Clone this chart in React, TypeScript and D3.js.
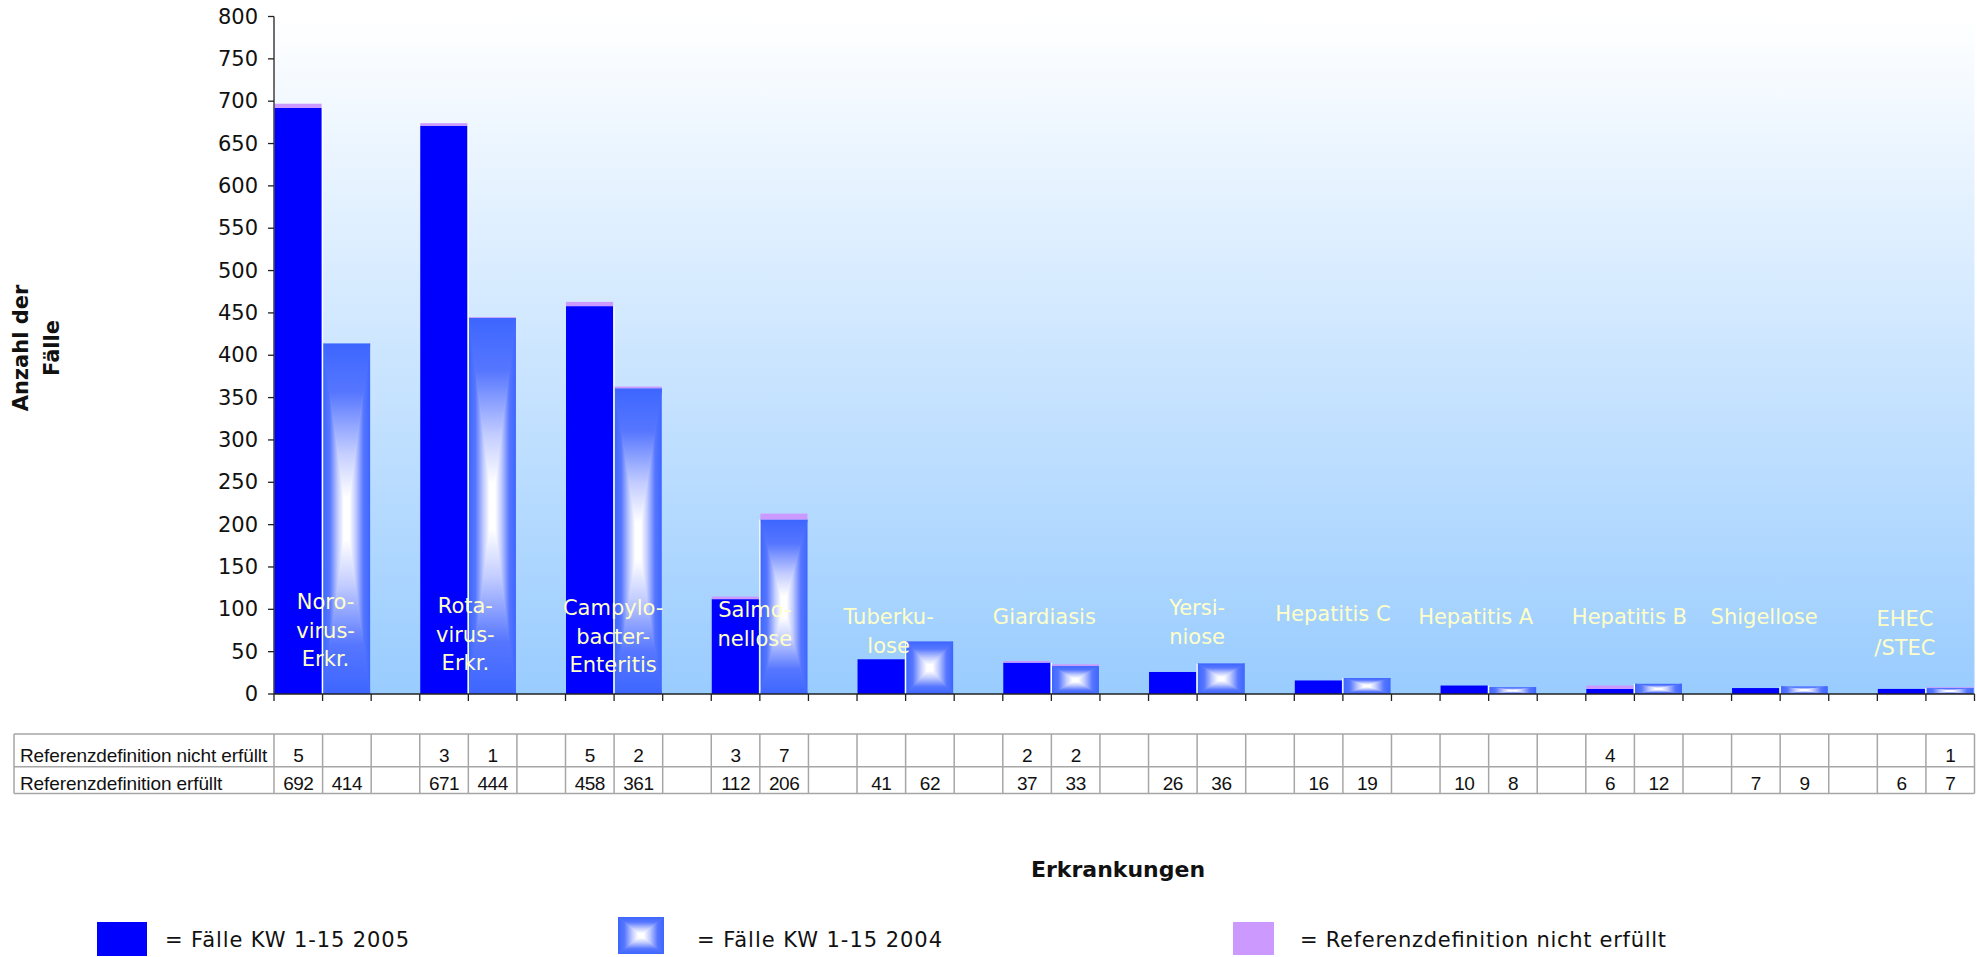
import React from "react";
import * as d3 from "d3";

// Disease categories (label lines as printed in the chart)
const categoryLines: string[][] = [
  ["Noro-", "virus-", "Erkr."],
  ["Rota-", "virus-", "Erkr."],
  ["Campylo-", "bacter-", "Enteritis"],
  ["Salmo-", "nellose"],
  ["Tuberku-", "lose"],
  ["Giardiasis"],
  ["Yersi-", "niose"],
  ["Hepatitis C"],
  ["Hepatitis A"],
  ["Hepatitis B"],
  ["Shigellose"],
  ["EHEC", "/STEC"],
];

// Cases meeting the reference definition
const confirmed2005 = [692, 671, 458, 112, 41, 37, 26, 16, 10, 6, 7, 6];
const confirmed2004 = [414, 444, 361, 206, 62, 33, 36, 19, 8, 12, 9, 7];
// Cases not meeting the reference definition (null = empty cell)
const unconfirmed2005: (number | null)[] = [5, 3, 5, 3, null, 2, null, null, null, 4, null, null];
const unconfirmed2004: (number | null)[] = [null, 1, 2, 7, null, 2, null, null, null, null, null, 1];

const yTickValues = [0, 50, 100, 150, 200, 250, 300, 350, 400, 450, 500, 550, 600, 650, 700, 750, 800];

const rowLabels = ["Referenzdefinition nicht erfüllt", "Referenzdefinition erfüllt"];
const legendLabels = ["= Fälle KW 1-15 2005", "= Fälle KW 1-15 2004", "= Referenzdefinition nicht erfüllt"];
const yTitleLines = ["Anzahl der", "Fälle"];
const xTitle = "Erkrankungen";

// Layout
const W = 1977;
const H = 957;
const plot = { left: 274, right: 1974.5, top: 16.5, bottom: 694 };
const table = { left: 14, top: 734, mid: 766.7, bottom: 793.5 };
// label placement: horizontal shift from the boundary between the two bars, first line centre y
const labelLayout = [
  { dx: 3, y: 602 },
  { dx: -3, y: 606 },
  { dx: -1, y: 608 },
  { dx: -5, y: 610 },
  { dx: -17, y: 617 },
  { dx: -7, y: 617 },
  { dx: 0, y: 608 },
  { dx: -10, y: 614 },
  { dx: -13, y: 617 },
  { dx: -5, y: 617 },
  { dx: -16, y: 617 },
  { dx: -21, y: 619 },
];

const BLUE = "#0000FF";
const BLUE_04 = "#3D66FF";
const PURPLE = "#CC99FF";
const LABEL_COL = "#FFFFC8";
const GRID = "#A6A6A6";

type Col = { key: string; g: number; kind: "2005" | "2004" | "gap" };

const columns: Col[] = [];
categoryLines.forEach((_, g) => {
  columns.push({ key: `${g}-2005`, g, kind: "2005" });
  columns.push({ key: `${g}-2004`, g, kind: "2004" });
  if (g < categoryLines.length - 1) columns.push({ key: `${g}-gap`, g, kind: "gap" });
});

const x = d3
  .scaleBand<string>()
  .domain(columns.map((c) => c.key))
  .range([plot.left, plot.right])
  .paddingInner(0)
  .paddingOuter(0);

const y = d3.scaleLinear().domain([0, 800]).range([plot.bottom, plot.top]);

// Rectangle filled with a box gradient: blue rim fading to a white centre
function GradientBar({ id, x0, x1, y0, y1 }: { id: string; x0: number; x1: number; y0: number; y1: number }) {
  const cx = (x0 + x1) / 2;
  const cy = (y0 + y1) / 2;
  const pts = (arr: number[][]) => arr.map((p) => p.join(",")).join(" ");
  const parts: [string, number[][]][] = [
    ["boxTop", [[x0, y0], [x1, y0], [cx, cy]]],
    ["boxBottom", [[x0, y1], [x1, y1], [cx, cy]]],
    ["boxLeft", [[x0, y0], [x0, y1], [cx, cy]]],
    ["boxRight", [[x1, y0], [x1, y1], [cx, cy]]],
  ];
  return (
    <g clipPath={`url(#clip-${id})`}>
      <clipPath id={`clip-${id}`}>
        <rect x={x0} y={y0} width={x1 - x0} height={y1 - y0} />
      </clipPath>
      {parts.map(([grad, p]) => (
        <polygon
          key={grad}
          points={pts(p)}
          fill={`url(#${grad})`}
          stroke={`url(#${grad})`}
          strokeWidth={1}
          strokeLinejoin="round"
        />
      ))}
    </g>
  );
}

const boxStops = (
  <>
    <stop offset="0" stopColor={BLUE_04} />
    <stop offset="0.28" stopColor="#5676FF" />
    <stop offset="0.62" stopColor="#C2CCFF" />
    <stop offset="0.88" stopColor="#FFFFFF" />
    <stop offset="1" stopColor="#FFFFFF" />
  </>
);

export default function App() {
  const bw = x.bandwidth();
  const bars: React.ReactNode[] = [];
  categoryLines.forEach((_, g) => {
    const series = [
      { kind: "2005", ok: confirmed2005[g], nok: unconfirmed2005[g] ?? 0 },
      { kind: "2004", ok: confirmed2004[g], nok: unconfirmed2004[g] ?? 0 },
    ];
    series.forEach((s) => {
      const x0 = (x(`${g}-${s.kind}`) as number) + 0.5;
      const x1 = x0 + bw - 1.5;
      const yTop = y(s.ok);
      if (s.kind === "2005") {
        bars.push(
          <rect key={`b${g}${s.kind}`} x={x0} y={yTop} width={x1 - x0} height={y(0) - yTop} fill={BLUE} />
        );
      } else {
        bars.push(<GradientBar key={`b${g}${s.kind}`} id={`bar${g}`} x0={x0} x1={x1} y0={yTop} y1={y(0)} />);
        bars.push(
          <line
            key={`s${g}`}
            x1={x0 - 0.5}
            x2={x0 - 0.5}
            y1={Math.min(yTop, y(confirmed2005[g]))}
            y2={y(0)}
            stroke="#FFFFFF"
            strokeWidth={1.2}
          />
        );
      }
      if (s.nok > 0) {
        const yN = y(s.ok + s.nok);
        bars.push(
          <rect key={`n${g}${s.kind}`} x={x0} y={yN} width={x1 - x0} height={yTop - yN} fill={PURPLE} />
        );
      }
    });
  });

  const boundaries = columns.map((c) => x(c.key) as number).concat([plot.right]);

  const cellText = (c: Col, row: 0 | 1): string => {
    if (c.kind === "gap") return "";
    if (row === 0) {
      const v = c.kind === "2005" ? unconfirmed2005[c.g] : unconfirmed2004[c.g];
      return v == null ? "" : String(v);
    }
    return String(c.kind === "2005" ? confirmed2005[c.g] : confirmed2004[c.g]);
  };

  return (
    <svg
      width={W}
      height={H}
      viewBox={`0 0 ${W} ${H}`}
      style={{ position: "absolute", left: 0, top: 0, display: "block", background: "#fff" }}
    >
      <defs>
        <linearGradient id="plotBg" x1="0" y1="0" x2="0" y2="1">
          <stop offset="0" stopColor="#FFFFFF" />
          <stop offset="1" stopColor="#99CCFF" />
        </linearGradient>
        <linearGradient id="boxTop" x1="0" y1="0" x2="0" y2="1">{boxStops}</linearGradient>
        <linearGradient id="boxBottom" x1="0" y1="1" x2="0" y2="0">{boxStops}</linearGradient>
        <linearGradient id="boxLeft" x1="0" y1="0" x2="1" y2="0">{boxStops}</linearGradient>
        <linearGradient id="boxRight" x1="1" y1="0" x2="0" y2="0">{boxStops}</linearGradient>
      </defs>

      {/* plot area */}
      <rect
        x={plot.left}
        y={plot.top}
        width={plot.right - plot.left}
        height={plot.bottom - plot.top}
        fill="url(#plotBg)"
      />

      {bars}

      {/* category labels */}
      {categoryLines.map((lines, g) => {
        const cx = (x(`${g}-2004`) as number) + labelLayout[g].dx;
        return (
          <text
            key={`cl${g}`}
            fill={LABEL_COL}
            fontFamily="'DejaVu Sans', Verdana, sans-serif"
            fontSize={21}
            textAnchor="middle"
          >
            {lines.map((ln, i) => (
              <tspan key={i} x={cx} y={labelLayout[g].y + i * 28.5} dominantBaseline="central">
                {ln}
              </tspan>
            ))}
          </text>
        );
      })}

      {/* y axis */}
      <line x1={plot.left} x2={plot.left} y1={plot.top} y2={plot.bottom} stroke="#222" strokeWidth={1.3} />
      {yTickValues.map((v) => (
        <g key={`yt${v}`}>
          <line x1={plot.left - 6} x2={plot.left} y1={y(v)} y2={y(v)} stroke="#222" strokeWidth={1.3} />
          <text
            x={258}
            y={y(v)}
            textAnchor="end"
            dominantBaseline="central"
            fontFamily="'DejaVu Sans', Verdana, sans-serif"
            fontSize={21}
            fill="#111"
          >
            {v}
          </text>
        </g>
      ))}

      {/* x axis */}
      <line x1={plot.left} x2={plot.right} y1={plot.bottom} y2={plot.bottom} stroke="#222" strokeWidth={1.3} />
      {boundaries.map((bx, i) => (
        <line key={`xt${i}`} x1={bx} x2={bx} y1={plot.bottom} y2={plot.bottom + 7} stroke="#222" strokeWidth={1.3} />
      ))}

      {/* y axis title */}
      <g transform="translate(0,348) rotate(-90)">
        {yTitleLines.map((t, i) => (
          <text
            key={t}
            x={0}
            y={28 + i * 31}
            textAnchor="middle"
            fontFamily="'DejaVu Sans', Verdana, sans-serif"
            fontWeight="bold"
            fontSize={21}
            fill="#111"
          >
            {t}
          </text>
        ))}
      </g>

      {/* data table */}
      <g stroke={GRID} strokeWidth={1.5}>
        <line x1={table.left} x2={plot.right} y1={table.top} y2={table.top} />
        <line x1={table.left} x2={plot.right} y1={table.mid} y2={table.mid} />
        <line x1={table.left} x2={plot.right} y1={table.bottom} y2={table.bottom} />
        <line x1={table.left} x2={table.left} y1={table.top} y2={table.bottom} />
        {boundaries.map((bx, i) => (
          <line key={`tv${i}`} x1={bx} x2={bx} y1={table.top} y2={table.bottom} />
        ))}
      </g>
      <g fontFamily="'Liberation Sans', Arial, sans-serif" fontSize={19} fill="#111">
        {rowLabels.map((t, r) => (
          <text key={t} x={20} y={r === 0 ? 762 : 789.5} letterSpacing={-0.1}>
            {t}
          </text>
        ))}
        {columns.map((c) =>
          ([0, 1] as const).map((r) => {
            const s = cellText(c, r);
            if (!s) return null;
            return (
              <text
                key={`${c.key}-${r}`}
                x={(x(c.key) as number) + bw / 2}
                y={r === 0 ? 762 : 789.5}
                textAnchor="middle"
                letterSpacing={-0.5}
              >
                {s}
              </text>
            );
          })
        )}
      </g>

      {/* x axis title */}
      <text
        x={1118}
        y={877}
        textAnchor="middle"
        fontFamily="'DejaVu Sans', Verdana, sans-serif"
        fontWeight="bold"
        fontSize={22}
        fill="#111"
      >
        {xTitle}
      </text>

      {/* legend */}
      <rect x={97} y={922} width={50} height={34} fill={BLUE} />
      <GradientBar id="legend" x0={618} x1={664} y0={917} y1={954} />
      <rect x={1233} y={922} width={41} height={33} fill={PURPLE} />
      {legendLabels.map((t, i) => (
        <text
          key={t}
          x={[165, 697, 1300][i]}
          y={947}
          fontFamily="'DejaVu Sans', Verdana, sans-serif"
          fontSize={21}
          fill="#111"
          textLength={[244, 245, 366][i]}
          lengthAdjust="spacing"
        >
          {t}
        </text>
      ))}
    </svg>
  );
}
